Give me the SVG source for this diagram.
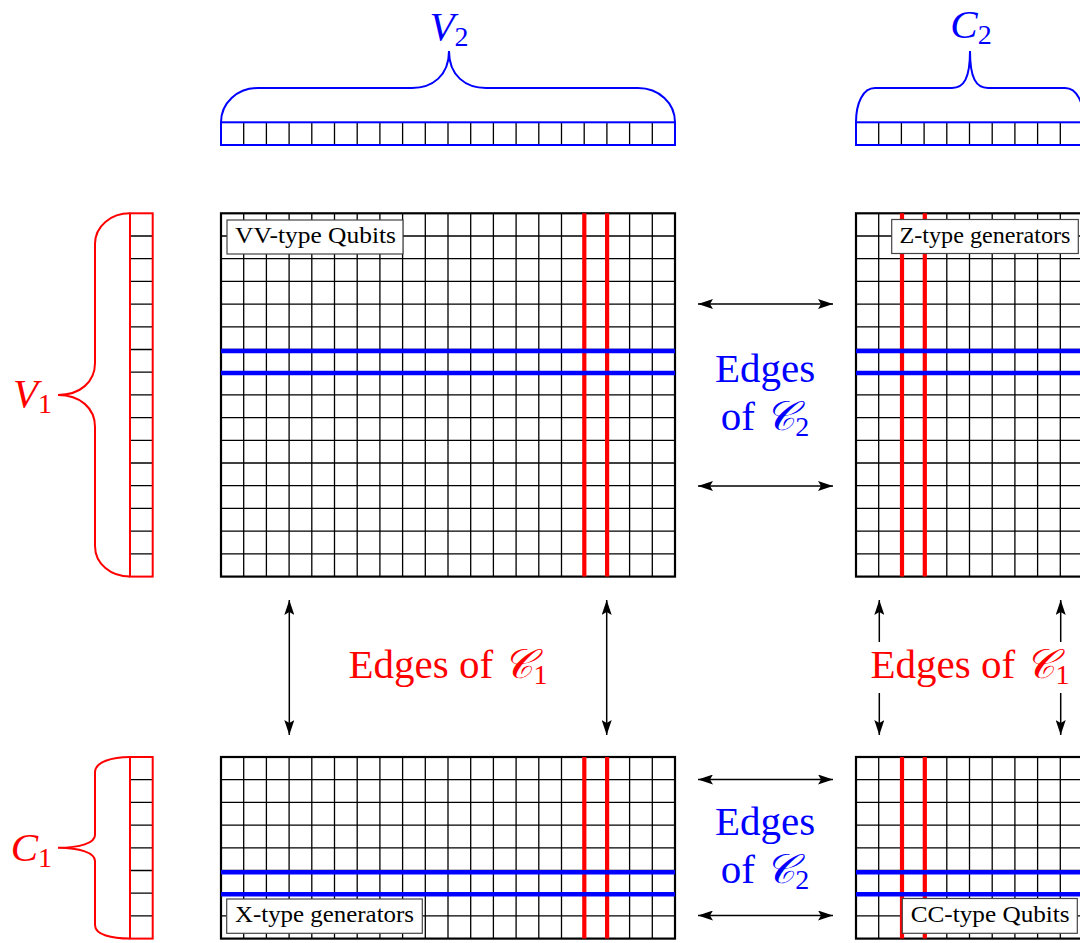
<svg xmlns="http://www.w3.org/2000/svg" width="1080" height="943" viewBox="0 0 1080 943">
<style>
.gl{stroke:#000;stroke-width:1.3;fill:none}
.gb{stroke:#000;stroke-width:2.2;fill:none}
.rl{stroke:#ff0000;stroke-width:4.2;fill:none}
.bl{stroke:#0000ff;stroke-width:4.6;fill:none}
.bs{stroke:#0000ff;stroke-width:2;fill:none}
.rs{stroke:#ff0000;stroke-width:2;fill:none}
.box{fill:#fff;stroke:#444;stroke-width:1.2}
.bt{font-family:"Liberation Serif",serif;font-size:23px;fill:#000}
.big{font-family:"Liberation Serif",serif;font-size:41px}
.arr{stroke:#000;stroke-width:1.5;fill:none}
</style>
<defs>
<marker id="ah" viewBox="0 0 15 10" refX="15" refY="5" markerWidth="15" markerHeight="10" markerUnits="userSpaceOnUse" orient="auto-start-reverse">
<path d="M0,0 L15,5 L0,10 L3,5 Z" fill="#000"/>
</marker>
</defs>
<rect width="1080" height="943" fill="#fff"/>

<g id="V2-strip">
<path class="gl" d="M243.7 122.3V145M266.4 122.3V145M289.1 122.3V145M311.8 122.3V145M334.5 122.3V145M357.2 122.3V145M379.9 122.3V145M402.6 122.3V145M425.3 122.3V145M448 122.3V145M470.7 122.3V145M493.4 122.3V145M516.1 122.3V145M538.8 122.3V145M561.5 122.3V145M584.2 122.3V145M606.9 122.3V145M629.6 122.3V145M652.3 122.3V145"/>
<rect class="bs" x="221" y="122.3" width="454" height="22.7"/>
<path class="bs" d="M221 122.3C221 103 237 88 258 88L412 88C432 88 449 76 449 51C449 76 466 88 486 88L638 88C659 88 675 103 675 122.3"/>
<text class="big" x="449" y="40" text-anchor="middle" fill="#0000ff"><tspan font-style="italic">V</tspan><tspan font-size="28" dy="6">2</tspan></text>
</g>

<g id="C2-strip">
<path class="gl" d="M878.7 122.3V145M901.4 122.3V145M924.1 122.3V145M946.8 122.3V145M969.5 122.3V145M992.2 122.3V145M1014.9 122.3V145M1037.6 122.3V145M1060.3 122.3V145"/>
<rect class="bs" x="856" y="122.3" width="227" height="22.7"/>
<path class="bs" d="M856 122.3C856 103 863 88 875 88L952 88C964 88 970 78 970 51C970 78 976 88 988 88L1065 88C1077 88 1084 103 1084 122.3"/>
<text class="big" x="971" y="38" text-anchor="middle" fill="#0000ff"><tspan font-style="italic">C</tspan><tspan font-size="28" dy="6">2</tspan></text>
</g>

<g id="V1-strip">
<path class="gl" d="M130 236H152.7M130 258.7H152.7M130 281.4H152.7M130 304.1H152.7M130 326.8H152.7M130 349.5H152.7M130 372.2H152.7M130 394.9H152.7M130 417.6H152.7M130 440.3H152.7M130 463H152.7M130 485.7H152.7M130 508.4H152.7M130 531.1H152.7M130 553.8H152.7"/>
<rect class="rs" x="130" y="213.3" width="22.7" height="363.3"/>
<path class="rs" d="M130 213.3C111 213.3 95 226 95 244L95 363C95 382 80 395 58 395C80 395 95 408 95 427L95 546C95 564 111 576.6 130 576.6"/>
<text class="big" x="52" y="407" text-anchor="end" fill="#ff0000"><tspan font-style="italic">V</tspan><tspan font-size="28" dy="6">1</tspan></text>
</g>

<g id="C1-strip">
<path class="gl" d="M130 779.7H152.7M130 802.4H152.7M130 825.1H152.7M130 847.8H152.7M130 870.5H152.7M130 893.2H152.7M130 915.9H152.7"/>
<rect class="rs" x="130" y="757" width="22.7" height="181.6"/>
<path class="rs" d="M130 757C112 757 95 762 95 772L95 835C95 843 80 847.8 58 847.8C80 847.8 95 853 95 861L95 925C95 935 112 938.6 130 938.6"/>
<text class="big" x="52" y="861" text-anchor="end" fill="#ff0000"><tspan font-style="italic">C</tspan><tspan font-size="28" dy="6">1</tspan></text>
</g>

<g id="grid-VV">
<path class="gl" d="M243.7 213.3V576.6M266.4 213.3V576.6M289.1 213.3V576.6M311.8 213.3V576.6M334.5 213.3V576.6M357.2 213.3V576.6M379.9 213.3V576.6M402.6 213.3V576.6M425.3 213.3V576.6M448 213.3V576.6M470.7 213.3V576.6M493.4 213.3V576.6M516.1 213.3V576.6M538.8 213.3V576.6M561.5 213.3V576.6M584.2 213.3V576.6M606.9 213.3V576.6M629.6 213.3V576.6M652.3 213.3V576.6M221 236H675M221 258.7H675M221 281.4H675M221 304.1H675M221 326.8H675M221 349.5H675M221 372.2H675M221 394.9H675M221 417.6H675M221 440.3H675M221 463H675M221 485.7H675M221 508.4H675M221 531.1H675M221 553.8H675"/>
<rect class="gb" x="221" y="213.3" width="454" height="363.3"/>
<path class="rl" d="M584.3 213.3V576.6M607.1 213.3V576.6"/>
<path class="bl" d="M221 351H675M221 373H675"/>
<rect class="box" x="227" y="220" width="176" height="34"/>
<text class="bt" x="235" y="243" textLength="161" lengthAdjust="spacingAndGlyphs">VV-type Qubits</text>
</g>

<g id="grid-Z">
<path class="gl" d="M878.7 213.3V576.6M901.4 213.3V576.6M924.1 213.3V576.6M946.8 213.3V576.6M969.5 213.3V576.6M992.2 213.3V576.6M1014.9 213.3V576.6M1037.6 213.3V576.6M1060.3 213.3V576.6M856 236H1083M856 258.7H1083M856 281.4H1083M856 304.1H1083M856 326.8H1083M856 349.5H1083M856 372.2H1083M856 394.9H1083M856 417.6H1083M856 440.3H1083M856 463H1083M856 485.7H1083M856 508.4H1083M856 531.1H1083M856 553.8H1083"/>
<rect class="gb" x="856" y="213.3" width="227" height="363.3"/>
<path class="rl" d="M902 213.3V576.6M924.8 213.3V576.6"/>
<path class="bl" d="M856 351H1083M856 373H1083"/>
<rect class="box" x="891.7" y="219.5" width="186.6" height="34"/>
<text class="bt" x="899.5" y="242.5" textLength="171" lengthAdjust="spacingAndGlyphs">Z-type generators</text>
</g>

<g id="grid-X">
<path class="gl" d="M243.7 757V938.6M266.4 757V938.6M289.1 757V938.6M311.8 757V938.6M334.5 757V938.6M357.2 757V938.6M379.9 757V938.6M402.6 757V938.6M425.3 757V938.6M448 757V938.6M470.7 757V938.6M493.4 757V938.6M516.1 757V938.6M538.8 757V938.6M561.5 757V938.6M584.2 757V938.6M606.9 757V938.6M629.6 757V938.6M652.3 757V938.6M221 779.7H675M221 802.4H675M221 825.1H675M221 847.8H675M221 870.5H675M221 893.2H675M221 915.9H675"/>
<rect class="gb" x="221" y="757" width="454" height="181.6"/>
<path class="rl" d="M584.3 757V938.6M607.1 757V938.6"/>
<path class="bl" d="M221 872.2H675M221 894.3H675"/>
<rect class="box" x="226.7" y="899" width="195.6" height="34.3"/>
<text class="bt" x="235" y="922" textLength="179" lengthAdjust="spacingAndGlyphs">X-type generators</text>
</g>

<g id="grid-CC">
<path class="gl" d="M878.7 757V938.6M901.4 757V938.6M924.1 757V938.6M946.8 757V938.6M969.5 757V938.6M992.2 757V938.6M1014.9 757V938.6M1037.6 757V938.6M1060.3 757V938.6M856 779.7H1083M856 802.4H1083M856 825.1H1083M856 847.8H1083M856 870.5H1083M856 893.2H1083M856 915.9H1083"/>
<rect class="gb" x="856" y="757" width="227" height="181.6"/>
<path class="rl" d="M902 757V938.6M924.8 757V938.6"/>
<path class="bl" d="M856 872.2H1083M856 894.3H1083"/>
<rect class="box" x="902.3" y="898.5" width="175" height="34.8"/>
<text class="bt" x="910.7" y="922" textLength="159" lengthAdjust="spacingAndGlyphs">CC-type Qubits</text>
</g>

<g id="connectors">
<path class="arr" d="M698 304H833" marker-start="url(#ah)" marker-end="url(#ah)"/>
<path class="arr" d="M698 486H833" marker-start="url(#ah)" marker-end="url(#ah)"/>
<path class="arr" d="M698 779.5H833" marker-start="url(#ah)" marker-end="url(#ah)"/>
<path class="arr" d="M698 915.5H833" marker-start="url(#ah)" marker-end="url(#ah)"/>
<path class="arr" d="M289.3 600V735" marker-start="url(#ah)" marker-end="url(#ah)"/>
<path class="arr" d="M606.7 600V735" marker-start="url(#ah)" marker-end="url(#ah)"/>
<path class="arr" d="M879.3 642V600" marker-end="url(#ah)"/>
<path class="arr" d="M879.3 693V735" marker-end="url(#ah)"/>
<path class="arr" d="M1060.7 642V600" marker-end="url(#ah)"/>
<path class="arr" d="M1060.7 693V735" marker-end="url(#ah)"/>
</g>

<g id="edge-labels">
<text class="big" x="448" y="678" text-anchor="middle" fill="#ff0000">Edges of <tspan font-style="italic">𝒞</tspan><tspan font-size="28" dy="6">1</tspan></text>
<text class="big" x="970" y="678" text-anchor="middle" fill="#ff0000">Edges of <tspan font-style="italic">𝒞</tspan><tspan font-size="28" dy="6">1</tspan></text>
<text class="big" x="765" y="382" text-anchor="middle" fill="#0000ff">Edges</text>
<text class="big" x="765" y="430" text-anchor="middle" fill="#0000ff">of <tspan font-style="italic">𝒞</tspan><tspan font-size="28" dy="6">2</tspan></text>
<text class="big" x="765" y="835" text-anchor="middle" fill="#0000ff">Edges</text>
<text class="big" x="765" y="883" text-anchor="middle" fill="#0000ff">of <tspan font-style="italic">𝒞</tspan><tspan font-size="28" dy="6">2</tspan></text>
</g>
</svg>
